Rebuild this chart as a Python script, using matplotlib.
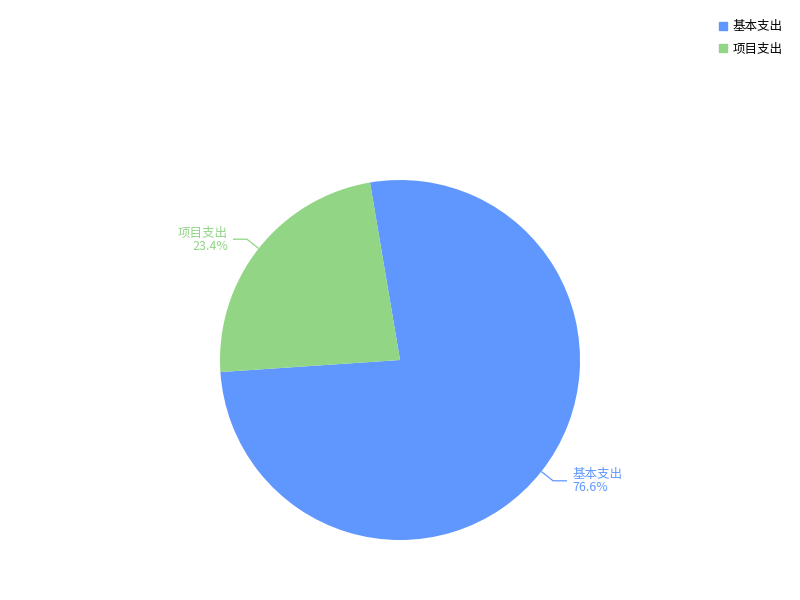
import numpy as np
import matplotlib.pyplot as plt
from matplotlib.lines import Line2D

plt.rcParams['font.family'] = ['Noto Sans CJK SC', 'DejaVu Sans']

names = ['基本支出', '项目支出']
values = [76.6, 23.4]
colors = ['#5f97ff', '#91d585']

fig = plt.figure(figsize=(8, 6), dpi=100)
ax = fig.add_axes([0, 0, 1, 1])

cx, cy, r = 400, 240, 180
start = 99.6
wedges, _ = ax.pie(values, colors=colors, startangle=start, counterclock=False,
                   center=(cx, cy), radius=r, frame=True,
                   wedgeprops=dict(linewidth=0))
ax.set_xlim(0, 800)
ax.set_ylim(0, 600)
ax.set_aspect('equal')
ax.axis('off')

total = sum(values)
for w, name, v, c in zip(wedges, names, values, colors):
    mid = np.deg2rad((w.theta1 + w.theta2) / 2)
    x0, y0 = cx + r * np.cos(mid), cy + r * np.sin(mid)
    x1, y1 = cx + (r + 15) * np.cos(mid), cy + (r + 15) * np.sin(mid)
    side = 1 if np.cos(mid) >= 0 else -1
    x2 = x1 + side * 14
    ax.plot([x0, x1, x2], [y0, y1, y1], color=c, lw=0.9, solid_capstyle='butt')
    tx = x2 + side * 5
    ha = 'left' if side > 0 else 'right'
    ax.text(tx, y1 - 0.5, name, color=c, fontsize=9, ha=ha, va='bottom')
    ax.text(tx, y1 - 0.5, f'{v / total * 100:.1f}%', color=c, fontsize=9, ha=ha, va='top')

handles = [Line2D([], [], marker='s', linestyle='none', markersize=6,
                  markerfacecolor=c, markeredgecolor=c) for c in colors]
fig.legend(handles, names, loc='upper right', bbox_to_anchor=(0.992, 0.985),
           frameon=False, fontsize=9, handlelength=0.6, handletextpad=0.45,
           labelspacing=0.75)

fig.savefig('out.png', dpi=100)
